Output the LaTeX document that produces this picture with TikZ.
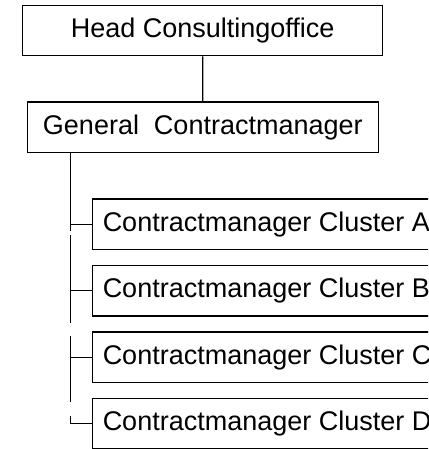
\documentclass[tikz,border=0pt]{standalone}
\usepackage{fontspec}
\setmainfont{Liberation Sans}
\usepackage{tikz}
\usetikzlibrary{positioning,calc}

\begin{document}
\begin{tikzpicture}[
  x=1pt, y=-1pt,
  box/.style={draw, line width=1.3pt, minimum height=50.5pt, inner sep=0pt, font=\fontsize{27}{32}\selectfont},
  clu/.style={box, anchor=west, inner xsep=10.4pt},
  conn/.style={line width=1.3pt},
]
\useasboundingbox (0,0) rectangle (428,449);
\clip (0,0) rectangle (428,449);

% ─── Top of the chart ───
\node[box, minimum width=360pt] (head) at (202.7,30.5)  {Head Consultingoffice};
\node[box, minimum width=351pt] (gen)  at (202.8,127.2) {General\ \ Contractmanager};

% ─── Clusters (cut off at the right edge) ───
\node[clu] (clA) at (91.7,224.3) {Contractmanager Cluster A};
\node[clu] (clB) at (91.7,290.8) {Contractmanager Cluster B};
\node[clu] (clC) at (91.7,357.3) {Contractmanager Cluster C};
\node[clu] (clD) at (91.7,423.8) {Contractmanager Cluster D};

% ─── Spine ends ───
\coordinate (s0) at (70.3,152.7);
\coordinate (s1) at (70.3,231);
\coordinate (s2) at (70.3,235);
\coordinate (s3) at (70.3,323.3);
\coordinate (s4) at (70.3,335.7);
\coordinate (s5) at (70.3,401.7);
\coordinate (s6) at (70.3,416);

% ─── Connectors ───
\draw[conn] (head) -- (gen);
\draw[conn] (s0) -- (s1);
\draw[conn] (s2) -- (s3);
\draw[conn] (s4) -- (s5);
\draw[conn] (s0 |- clA.west) -- (clA.west);
\draw[conn] (s0 |- clB.west) -- (clB.west);
\draw[conn] (s0 |- clC.west) -- (clC.west);
\draw[conn] (s6) -- (s6 |- clD.west) -- (clD.west);

\end{tikzpicture}
\end{document}
